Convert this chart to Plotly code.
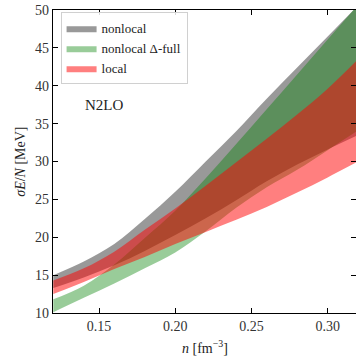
import plotly.graph_objects as go

# densities n [fm^-3]
n = [0.12, 0.14, 0.16, 0.18, 0.20, 0.22, 0.24, 0.26, 0.28, 0.30, 0.32]

# nonlocal band
nonlocal_lower = [13.3, 14.7, 16.3, 18.2, 20.3, 22.5, 24.9, 27.4, 29.6, 31.6, 33.5]
nonlocal_upper = [15.0, 16.8, 19.1, 22.4, 26.0, 30.0, 34.0, 38.3, 42.4, 46.5, 50.6]

# nonlocal Delta-full band
delta_lower = [10.1, 12.0, 13.9, 15.9, 18.0, 20.8, 23.9, 26.6, 28.9, 31.5, 34.1]
delta_upper = [11.8, 13.6, 16.4, 19.9, 23.5, 27.8, 32.3, 36.9, 41.5, 46.1, 50.7]

# local band
local_lower = [12.5, 14.1, 15.8, 17.4, 19.1, 20.7, 22.3, 24.0, 25.9, 27.9, 30.0]
local_upper = [14.3, 15.9, 18.1, 21.0, 23.8, 26.8, 29.9, 33.0, 36.2, 39.6, 43.5]

x_ticks = [0.15, 0.20, 0.25, 0.30]
y_ticks = [10, 15, 20, 25, 30, 35, 40, 45, 50]

FONT = "Liberation Serif"

fig = go.Figure()


def add_band(lo, hi, color, name):
    fig.add_trace(go.Scatter(
        x=n, y=lo, mode="lines", line=dict(width=0, shape="spline", smoothing=1.0),
        showlegend=False, hoverinfo="skip"))
    fig.add_trace(go.Scatter(
        x=n, y=hi, mode="lines", line=dict(width=0, shape="spline", smoothing=1.0, color=color),
        fill="tonexty", fillcolor=color, name=name, hoverinfo="skip"))


add_band(nonlocal_lower, nonlocal_upper, "rgba(128,128,128,0.8)", "nonlocal")
add_band(delta_lower, delta_upper, "rgba(0,128,0,0.4)", "nonlocal Δ-full")
add_band(local_lower, local_upper, "rgba(255,0,0,0.5)", "local")

# helper trace for right-hand ticks
fig.add_trace(go.Scatter(x=[n[0]], y=[y_ticks[0]], yaxis="y2", mode="markers",
                         marker=dict(opacity=0), showlegend=False, hoverinfo="skip"))

fig.update_layout(
    width=356,
    height=357,
    margin=dict(l=53, r=0, t=10, b=44),
    paper_bgcolor="white",
    plot_bgcolor="white",
    font=dict(family=FONT, size=14, color="#222222"),
    showlegend=True,
    legend=dict(
        x=0.025, y=0.992, xanchor="left", yanchor="top",
        traceorder="normal",
        bgcolor="rgba(255,255,255,0.85)",
        bordercolor="#d0d0d0", borderwidth=1,
        font=dict(family=FONT, size=13, color="#222222"),
        tracegroupgap=0,
    ),
    xaxis=dict(
        range=[0.1198, 0.3186],
        tickvals=x_ticks,
        tickformat=".2f",
        ticks="inside", ticklen=5, tickwidth=1, tickcolor="black",
        showline=True, linecolor="black", linewidth=1.2,
        mirror="ticks",
        showgrid=False, zeroline=False,
        tickfont=dict(family=FONT, size=14, color="#333333"),
    ),
    yaxis=dict(
        range=[10, 50],
        tickvals=y_ticks,
        ticks="inside", ticklen=5, tickwidth=1, tickcolor="black",
        showline=True, linecolor="black", linewidth=1.2,
        mirror=False,
        showgrid=False, zeroline=False,
        tickfont=dict(family=FONT, size=14, color="#333333"),
    ),
    yaxis2=dict(
        range=[10, 50],
        overlaying="y", side="right", anchor="x",
        tickvals=y_ticks,
        ticks="inside", ticklen=5, tickwidth=1, tickcolor="black",
        showticklabels=False, showline=False, showgrid=False, zeroline=False,
    ),
    annotations=[
        dict(text="<i>σE</i>/<i>N</i> [MeV]", xref="paper", yref="paper",
             x=-0.108, y=0.5, xanchor="center", yanchor="middle",
             textangle=-90, showarrow=False,
             font=dict(family=FONT, size=14, color="#222222")),
        dict(text="<i>n</i> [fm<sup>−3</sup>]", xref="paper", yref="paper",
             x=0.5, y=-0.112, xanchor="center", yanchor="middle",
             showarrow=False,
             font=dict(family=FONT, size=14, color="#222222")),
        dict(text="N2LO", xref="paper", yref="paper",
             x=0.167, y=0.6865, xanchor="center", yanchor="middle",
             showarrow=False,
             font=dict(family=FONT, size=15, color="#222222")),
    ],
)

fig.write_html("out.html")
